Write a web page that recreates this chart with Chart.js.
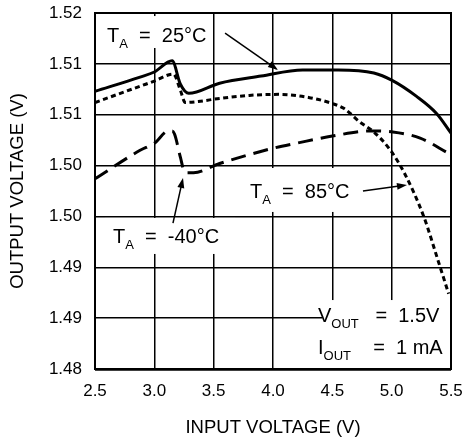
<!DOCTYPE html>
<html>
<head>
<meta charset="utf-8">
<script src="https://cdn.jsdelivr.net/npm/chart.js@4.4.1/dist/chart.umd.min.js"></script>
<style>
html,body{margin:0;padding:0;background:#fff;}
#wrap{width:465px;height:447px;}
</style>
</head>
<body>
<div id="wrap"><canvas id="chart"></canvas></div>
<script>
// output voltage vs input voltage, one pair of arrays per temperature
const vin25=[2.5,2.88,3.0,3.15,3.22,3.29,3.55,3.9,4.25,4.55,4.85,5.0,5.21,5.38,5.5];
const vout25=[1.5123,1.5137,1.5142,1.5153,1.5130,1.5121,1.5131,1.5138,1.5144,1.5144,1.5141,1.5134,1.5118,1.5101,1.5082];

const vin85=[2.5,2.88,3.0,3.16,3.22,3.26,3.37,3.55,3.8,4.05,4.3,4.5,4.6,4.73,4.85,4.99,5.11,5.27,5.39,5.48];
const vout85=[1.5112,1.5128,1.5133,1.5140,1.5124,1.5112,1.5113,1.5116,1.5119,1.5120,1.5117,1.5111,1.5106,1.5093,1.5083,1.5065,1.5042,1.5000,1.4957,1.4924];

const vinM40=[2.5,2.88,3.0,3.12,3.15,3.17,3.22,3.25,3.28,3.33,3.55,4.0,4.2,4.5,4.82,5.01,5.24,5.48];
const voutM40=[1.5037,1.5065,1.5072,1.5084,1.5084,1.5081,1.5058,1.5045,1.5043,1.5043,1.5052,1.5067,1.5072,1.5079,1.5084,1.5083,1.5077,1.5062];

// axis ticks
const xTickValues=[2.5,3.0,3.5,4.0,4.5,5.0,5.5];
const xTickLabels=['2.5','3.0','3.5','4.0','4.5','5.0','5.5'];
const yTickValues=[1.485,1.490,1.495,1.500,1.505,1.510,1.515,1.520];
const yTickLabels=['1.48','1.49','1.49','1.50','1.50','1.51','1.51','1.52'];

const FONT="'Liberation Sans', Arial, sans-serif";

// callouts: text baseline anchor, white backing box and arrow, all in axis units
const notes=[
  {at:[2.601,1.51715], parts:[['T'],['A',1],['  =  25°C']],
   box:[2.542,1.5197,3.43,1.51656], arrow:[3.596,1.51803,4.042,1.5144]},
  {at:[2.652,1.49739], parts:[['T'],['A',1],['  =  -40°C']],
   box:[2.584,1.49985,3.681,1.49631], arrow:[3.157,1.49935,3.2416,1.50378]},
  {at:[3.806,1.50181], parts:[['T'],['A',1],['  =  85°C']],
   box:[3.748,1.50476,4.75,1.50044], arrow:[4.758,1.5025,5.129,1.50309]},
  {at:[4.379,1.48962], parts:[['V'],['OUT',1],['   =  1.5V']],
   box:[4.415,1.49178,5.5,1.485]},
  {at:[4.379,1.48648], parts:[['I'],['OUT',1],['    =  1 mA']]}
];

function toPoints(xs,ys){ return xs.map((x,i)=>({x:x,y:ys[i]})); }

function drawArrow(ctx,x0,y0,x1,y1){
  const a=Math.atan2(y1-y0,x1-x0), L=10, W=3.5;
  ctx.beginPath();
  ctx.moveTo(x0,y0);
  ctx.lineTo(x1-L*0.6*Math.cos(a),y1-L*0.6*Math.sin(a));
  ctx.lineWidth=1.5;
  ctx.stroke();
  ctx.beginPath();
  ctx.moveTo(x1,y1);
  ctx.lineTo(x1-L*Math.cos(a)+W*Math.sin(a),y1-L*Math.sin(a)-W*Math.cos(a));
  ctx.lineTo(x1-L*Math.cos(a)-W*Math.sin(a),y1-L*Math.sin(a)+W*Math.cos(a));
  ctx.closePath();
  ctx.fill();
}

const notesPlugin={
  id:'notes',
  beforeDatasetsDraw(chart){
    const ctx=chart.ctx, sx=chart.scales.x, sy=chart.scales.y, a=chart.chartArea;
    ctx.save();
    ctx.fillStyle='#fff';
    notes.forEach(n=>{
      if(!n.box) return;
      const l=sx.getPixelForValue(n.box[0]), t=sy.getPixelForValue(n.box[1]);
      const r=sx.getPixelForValue(n.box[2]), b=sy.getPixelForValue(n.box[3]);
      ctx.fillRect(l,t,r-l,b-t);
    });
    ctx.strokeStyle='#000';
    ctx.lineWidth=2;
    ctx.strokeRect(a.left,a.top,a.right-a.left,a.bottom-a.top);
    ctx.beginPath();
    ctx.moveTo(a.left,a.bottom+0.5);
    ctx.lineTo(a.right,a.bottom+0.5);
    ctx.lineWidth=2.5;
    ctx.stroke();
    ctx.restore();
  },
  afterDatasetsDraw(chart){
    const ctx=chart.ctx, sx=chart.scales.x, sy=chart.scales.y;
    ctx.save();
    ctx.fillStyle='#000';
    ctx.strokeStyle='#000';
    ctx.textBaseline='alphabetic';
    ctx.textAlign='left';
    notes.forEach(n=>{
      let x=sx.getPixelForValue(n.at[0]);
      const y=sy.getPixelForValue(n.at[1]);
      n.parts.forEach(p=>{
        ctx.font=p[1]?('13px '+FONT):('20px '+FONT);
        ctx.fillText(p[0],x,p[1]?y+6:y);
        x+=ctx.measureText(p[0]).width;
      });
      if(n.arrow){
        drawArrow(ctx,sx.getPixelForValue(n.arrow[0]),sy.getPixelForValue(n.arrow[1]),
                      sx.getPixelForValue(n.arrow[2]),sy.getPixelForValue(n.arrow[3]));
      }
    });
    ctx.restore();
  }
};

const lineStyle={borderColor:'#000',borderWidth:3,pointRadius:0,fill:false,
  cubicInterpolationMode:'monotone',borderCapStyle:'butt'};

new Chart(document.getElementById('chart'),{
  type:'line',
  data:{
    datasets:[
      Object.assign({label:'25°C',data:toPoints(vin25,vout25)},lineStyle),
      Object.assign({label:'85°C',data:toPoints(vin85,vout85),borderDash:[5,3.5]},lineStyle),
      Object.assign({label:'-40°C',data:toPoints(vinM40,voutM40),borderDash:[15,8]},lineStyle)
    ]
  },
  options:{
    responsive:true,
    maintainAspectRatio:false,
    animation:false,
    layout:{padding:{top:13,right:14,left:0,bottom:0}},
    plugins:{legend:{display:false},tooltip:{enabled:false}},
    scales:{
      x:{
        type:'linear',min:2.5,max:5.5,
        afterBuildTicks:s=>{s.ticks=xTickValues.map(v=>({value:v}));},
        afterFit:s=>{s.height=78;s.paddingLeft=0;s.paddingRight=0;},
        grid:{color:'#000',lineWidth:1.5,drawTicks:false},
        border:{display:false},
        ticks:{color:'#000',font:{family:FONT,size:17},padding:12,maxRotation:0,
          callback:(v,i)=>xTickLabels[i]},
        title:{display:true,text:'INPUT VOLTAGE (V)',color:'#000',
          font:{family:FONT,size:18.5},padding:{top:0,bottom:8}}
      },
      y:{
        min:1.485,max:1.52,
        afterBuildTicks:s=>{s.ticks=yTickValues.map(v=>({value:v}));},
        afterFit:s=>{s.width=95;s.paddingTop=0;s.paddingBottom=0;},
        grid:{color:'#000',lineWidth:1.5,drawTicks:false},
        border:{display:false},
        ticks:{color:'#000',font:{family:FONT,size:17},padding:13,
          callback:(v,i)=>yTickLabels[i]},
        title:{display:true,text:'OUTPUT VOLTAGE (V)',color:'#000',
          font:{family:FONT,size:18.5},padding:{top:7,bottom:0}}
      }
    }
  },
  plugins:[notesPlugin]
});
</script>
</body>
</html>
